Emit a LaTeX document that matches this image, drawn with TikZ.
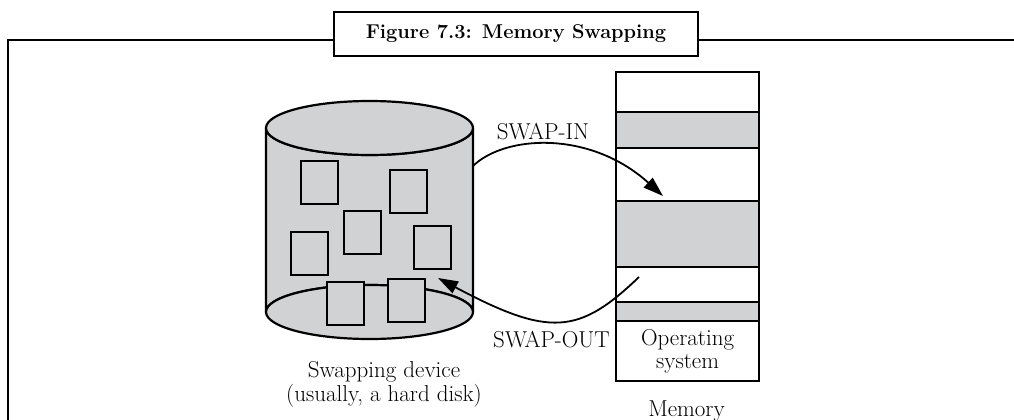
\documentclass[tikz,border=0pt]{standalone}
\usetikzlibrary{arrows.meta}
\begin{document}
\begin{tikzpicture}[x=1pt,y=-1pt,line join=miter]
\definecolor{diskgrey}{RGB}{209,210,212}
\tikzset{
  outline/.style={draw=black, line width=2.2pt},
  block/.style={outline, fill=diskgrey},
  page/.style={block, minimum width=37pt, minimum height=43pt, inner sep=0pt, anchor=north west},
  band/.style={outline, fill=white, minimum width=143pt, inner sep=0pt, anchor=north west},
  used/.style={band, fill=diskgrey},
  label/.style={font=\fontsize{23}{24}\selectfont, inner sep=0pt, align=center},
  swap/.style={draw=black, line width=1.8pt, -{Triangle[length=20pt,width=13pt]}}
}
\useasboundingbox (0,0) rectangle (1014,420);

% caption box and the frame line running out of it
\node[outline, fill=white, minimum width=364pt, minimum height=44pt, inner sep=0pt,
      font=\fontsize{20}{22}\selectfont\bfseries] (title) at (516,34) {Figure 7.3: Memory Swapping};
\coordinate (frameL) at (8,40);
\coordinate (frameR) at (1014,40);
\draw[line width=2.4pt] (8,420) -- (frameL) -- (title.west |- frameL);
\draw[line width=2.4pt] (title.east |- frameR) -- (frameR);

% swapping device: a grey cylinder
\path[block] (266,128) -- (266,312)
  arc[start angle=180, end angle=360, x radius=103.5, y radius=27]
  -- (473,128)
  arc[start angle=0, end angle=180, x radius=103.5, y radius=27] -- cycle;
\path[block] (369.5,128) ellipse[x radius=103.5, y radius=27];
\path[block] (369.5,312) ellipse[x radius=103.5, y radius=27];

% swapped-out process images on the disk
\node[page] (p1) at (300,160) {};
\node[page] (p2) at (389,169) {};
\node[page] (p3) at (343,210) {};
\node[page] (p4) at (290,231) {};
\node[page] (p5) at (413,225) {};
\node[page] (p6) at (326,281) {};
\node[page] (p7) at (387,278) {};

\node[label] (disklabel) at (384,384) {Swapping device\\(usually, a hard disk)};

% main memory
\node[band, minimum height=40pt] (m1) at (615,71) {};
\node[used, minimum height=36pt] (m2) at (615,111) {};
\node[band, minimum height=53pt] (m3) at (615,147) {};
\node[used, minimum height=66pt] (m4) at (615,200) {};
\node[band, minimum height=35pt] (m5) at (615,266) {};
\node[used, minimum height=19pt] (m6) at (615,301) {};
\node[band, minimum height=60pt, font=\fontsize{23}{23}\selectfont, align=center] (os) at (615,320) {Operating\\system};
\node[label] (memlabel) at (686.5,411) {Memory};

% swap transfers
\coordinate (inStart) at (473,166);
\coordinate (inEnd) at (663,196);
\coordinate (outStart) at (639,277);
\coordinate (outEnd) at (438,278);
\draw[swap] (inStart) .. controls (505,135) and (590,130) .. (inEnd);
\draw[swap] (outStart) .. controls (579,334.5) and (549.6,337.4) .. (outEnd);

\node[label] (inlabel) at (543,132) {SWAP-IN};
\node[label] (outlabel) at (551.5,340) {SWAP-OUT};
\end{tikzpicture}
\end{document}
